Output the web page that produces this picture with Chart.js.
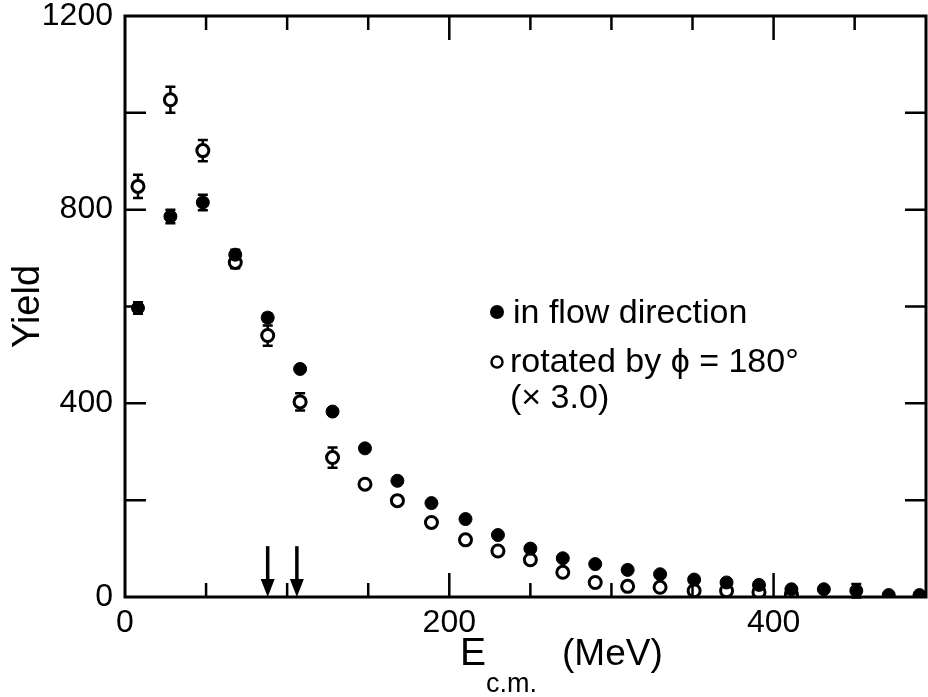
<!DOCTYPE html>
<html>
<head>
<meta charset="utf-8">
<script src="https://cdn.jsdelivr.net/npm/chart.js@4.4.1/dist/chart.umd.min.js"></script>
<style>
  html, body { margin: 0; padding: 0; background: #fff; }
  canvas { display: block; }
</style>
</head>
<body>
<canvas id="yieldChart" width="928" height="697"></canvas>
<script>
'use strict'

// bin centres, E_c.m. in MeV
const energies = [8, 28, 48, 68, 88, 108, 128, 148, 168, 189, 210, 230, 250, 270, 290, 310, 330, 351, 371, 391, 411, 431, 451, 471, 490]
const flowYield = [597, 786, 815, 707, 577, 471, 383, 307, 240, 194, 161, 128, 100, 80, 68, 56, 47, 36, 30, 25, 16, 16, 13, 4, 4]
const flowErr = [12, 14, 16, 10, 8, 0, 0, 0, 0, 0, 0, 0, 0, 0, 0, 0, 0, 0, 0, 0, 0, 0, 14, 0, 0]
const rotatedYield = [848, 1027, 922, 691, 540, 403, 288, 233, 199, 154, 118, 95, 77, 51, 30, 22, 20, 13, 13, 10, 5]
const rotatedErr = [24, 27, 22, 12, 21, 18, 21, 0, 0, 0, 0, 0, 0, 0, 0, 0, 0, 0, 0, 0, 0]
const arrowEnergies = [88, 106]
const arrowTop = 105

const xTickLabels = [0, 200, 400]
const xMinorTicks = [50, 100, 150, 250, 300, 350, 450]
const yTickLabels = [0, 400, 800, 1200]
const yMinorTicks = [200, 600, 1000]

const seriesLabels = ['in flow direction', 'rotated by \u03d5 = 180\u00b0']
const scaleNote = '(\u00d7 3.0)'
const yTitle = 'Yield'
const xTitle = ['E', 'c.m.', '(MeV)']

const FONT = "'Liberation Sans', Arial, Helvetica, sans-serif"

const toPoints = (xs, ys) => ys.map((v, i) => ({ x: xs[i], y: v }))

// error bars under the markers
const errorBars = {
  id: 'errorBars',
  beforeDatasetsDraw (chart) {
    const { ctx, scales: { x, y } } = chart
    ctx.save()
    ctx.strokeStyle = '#000'
    ctx.lineWidth = 2.5
    chart.data.datasets.forEach((ds) => {
      ds.data.forEach((p, i) => {
        const e = ds.errors[i]
        if (!e) return
        const px = x.getPixelForValue(p.x)
        const top = y.getPixelForValue(p.y + e)
        const bot = y.getPixelForValue(p.y - e)
        ctx.beginPath()
        ctx.moveTo(px, top); ctx.lineTo(px, bot)
        ctx.moveTo(px - 5, top); ctx.lineTo(px + 5, top)
        ctx.moveTo(px - 5, bot); ctx.lineTo(px + 5, bot)
        ctx.stroke()
      })
    })
    ctx.restore()
  }
}

// box, inward ticks, arrows, legend text and x title
const decorations = {
  id: 'decorations',
  afterDraw (chart) {
    const { ctx, chartArea: a, scales: { x, y } } = chart
    ctx.save()
    ctx.strokeStyle = '#000'
    ctx.fillStyle = '#000'
    ctx.lineWidth = 3
    ctx.strokeRect(a.left, a.top, a.right - a.left, a.bottom - a.top)

    ctx.lineWidth = 2.5
    ctx.beginPath()
    xTickLabels.concat(xMinorTicks).forEach((v) => {
      if (v <= 0) return
      const px = x.getPixelForValue(v)
      const len = xTickLabels.includes(v) ? 24 : 14
      ctx.moveTo(px, a.bottom); ctx.lineTo(px, a.bottom - len)
      ctx.moveTo(px, a.top); ctx.lineTo(px, a.top + len)
    })
    yTickLabels.concat(yMinorTicks).forEach((v) => {
      if (v <= 0 || v >= 1200) return
      const py = y.getPixelForValue(v)
      const len = v === 600 ? 8 : 21
      ctx.moveTo(a.left, py); ctx.lineTo(a.left + len, py)
      ctx.moveTo(a.right, py); ctx.lineTo(a.right - 21, py)
    })
    ctx.stroke()

    // arrows on the energy axis
    arrowEnergies.forEach((v) => {
      const px = x.getPixelForValue(v)
      const top = y.getPixelForValue(arrowTop)
      const tip = y.getPixelForValue(0)
      ctx.lineWidth = 3.5
      ctx.beginPath()
      ctx.moveTo(px, top); ctx.lineTo(px, tip - 12)
      ctx.stroke()
      ctx.beginPath()
      ctx.moveTo(px - 7, tip - 18); ctx.lineTo(px + 7, tip - 18); ctx.lineTo(px, tip)
      ctx.closePath()
      ctx.fill()
    })

    // legend
    const lx = 497
    ctx.beginPath(); ctx.arc(lx, 312, 7, 0, Math.PI * 2); ctx.fill()
    ctx.lineWidth = 2.5
    ctx.beginPath(); ctx.arc(lx, 362, 5.5, 0, Math.PI * 2); ctx.stroke()
    ctx.font = '34px ' + FONT
    ctx.textBaseline = 'alphabetic'
    ctx.textAlign = 'left'
    ctx.fillText(seriesLabels[0], 513, 323)
    ctx.fillText(seriesLabels[1], 510, 372)
    ctx.fillText(scaleNote, 510, 408)

    // x axis title with subscript
    ctx.font = '39px ' + FONT
    ctx.fillText(xTitle[0], 460, 665)
    const w = ctx.measureText(xTitle[0]).width
    ctx.font = '27px ' + FONT
    ctx.fillText(xTitle[1], 460 + w, 692)
    ctx.font = '37px ' + FONT
    ctx.fillText(xTitle[2], 562, 665)
    ctx.restore()
  }
}

const ctx = document.getElementById('yieldChart').getContext('2d')
const chart = new Chart(ctx, {
  type: 'scatter',
  data: {
    datasets: [{
      label: seriesLabels[0],
      data: toPoints(energies, flowYield),
      errors: flowErr,
      pointStyle: 'circle',
      pointRadius: 6.5,
      backgroundColor: '#000',
      borderColor: '#000',
      borderWidth: 1,
      clip: { left: 10, right: 10, top: 10, bottom: 0 }
    }, {
      label: seriesLabels[1],
      data: toPoints(energies, rotatedYield),
      errors: rotatedErr,
      pointStyle: 'circle',
      pointRadius: 6,
      backgroundColor: '#fff',
      borderColor: '#000',
      borderWidth: 3,
      clip: { left: 10, right: 10, top: 10, bottom: 0 }
    }]
  },
  options: {
    responsive: false,
    animation: false,
    devicePixelRatio: 1,
    layout: { autoPadding: false, padding: { top: 0, right: 2, left: 0, bottom: 0 } },
    plugins: {
      legend: { display: false },
      tooltip: { enabled: false }
    },
    scales: {
      x: {
        type: 'linear',
        min: 0,
        max: 494,
        grid: { display: false, drawTicks: false },
        border: { display: false },
        ticks: { padding: 10, color: '#000', maxRotation: 0, font: { family: FONT, size: 32, lineHeight: 1 }, callback: (v) => String(v) },
        afterBuildTicks: (scale) => { scale.ticks = xTickLabels.map((v) => ({ value: v })) },
        afterFit: (scale) => { scale.height = 100 }
      },
      y: {
        type: 'linear',
        min: 0,
        max: 1200,
        grid: { display: false, drawTicks: false },
        border: { display: false },
        ticks: { padding: 12, color: '#000', font: { family: FONT, size: 32, lineHeight: 0.25 }, callback: (v) => String(v) },
        afterBuildTicks: (scale) => { scale.ticks = yTickLabels.map((v) => ({ value: v })) },
        afterFit: (scale) => { scale.width = 125 },
        title: { display: true, text: yTitle, color: '#000', padding: 6, font: { family: FONT, size: 38 } }
      }
    }
  },
  plugins: [errorBars, decorations]
})
</script>
</body>
</html>
